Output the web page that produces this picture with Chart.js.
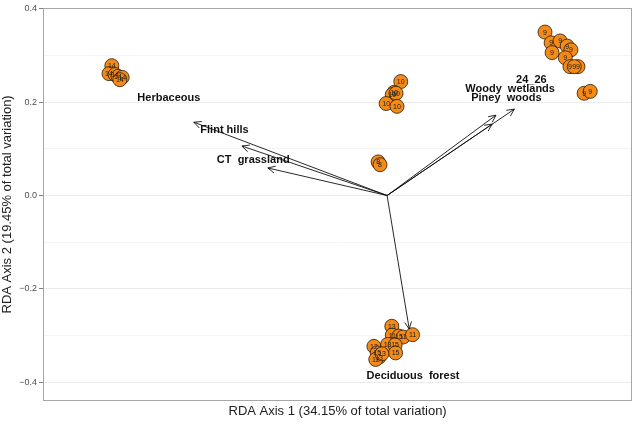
<!DOCTYPE html>
<html>
<head>
<meta charset="utf-8">
<script src="https://cdn.jsdelivr.net/npm/chart.js@4"></script>
<style>
html, body { margin: 0; padding: 0; background: #fff; }
#wrap { width: 640px; height: 424px; }
</style>
</head>
<body>
<div id="wrap"><canvas id="myChart"></canvas></div>
<script>
// site scores (RDA axis 1, RDA axis 2) and their labels
const siteX = [
  -0.584, -0.590, -0.577, -0.571, -0.562, -0.567,
  0.029, 0.015, 0.011, 0.019, -0.002, 0.021,
  0.335, 0.348, 0.367, 0.382, 0.390, 0.350, 0.378, 0.388, 0.405, 0.397, 0.418, 0.431,
  -0.019, -0.015,
  0.010, 0.011, 0.025, 0.034, 0.054, 0.001, 0.017, 0.018, -0.028, -0.021, -0.017, -0.024, -0.011
];
const siteY = [
  0.278, 0.261, 0.259, 0.255, 0.253, 0.248,
  0.244, 0.221, 0.216, 0.219, 0.197, 0.191,
  0.350, 0.327, 0.331, 0.320, 0.312, 0.306, 0.295, 0.276, 0.276, 0.276, 0.219, 0.223,
  0.072, 0.066,
  -0.280, -0.299, -0.301, -0.303, -0.298, -0.319, -0.320, -0.337, -0.323, -0.337, -0.346, -0.351, -0.339
];
const siteLabel = [
  "14", "14", "14", "14", "14", "14",
  "10", "10", "10", "10", "10", "10",
  "9", "9", "9", "9", "9", "9", "9", "9", "9", "9", "9", "9",
  "8", "8",
  "13", "11", "15", "11", "11", "13", "15", "15", "12", "15", "13", "12", "13"
];

// environmental vectors
const envName = ["Herbaceous", "Flint hills", "CT  grassland", "24_26", "Woody  wetlands", "Piney  woods", "Deciduous  forest"];
const envX = [-0.410, -0.308, -0.253, 0.270, 0.231, 0.223, 0.047];
const envY = [0.157, 0.106, 0.059, 0.185, 0.172, 0.153, -0.286];
const envLabelX = [-0.463, -0.345, -0.284, 0.306, 0.261, 0.253, 0.055];
const envLabelY = [0.208, 0.140, 0.077, 0.248, 0.229, 0.208, -0.386];

const yTicks = [-0.4, -0.3, -0.2, -0.1, 0, 0.1, 0.2, 0.3, 0.4];

function isMajor(v) {
  return Math.abs(Math.round(v * 10)) % 2 === 0;
}

const datasets = [{
  type: 'scatter',
  data: siteX.map((x, i) => ({ x: x, y: siteY[i] })),
  backgroundColor: '#f48a17',
  borderColor: '#2a1a0a',
  borderWidth: 0.8,
  pointRadius: 7,
  order: 2
}];

envName.forEach((name, i) => {
  datasets.push({
    type: 'line',
    data: [{ x: 0, y: 0 }, { x: envX[i], y: envY[i] }],
    borderColor: '#111',
    borderWidth: 0.9,
    pointRadius: 0,
    fill: false,
    order: 1
  });
});

const extras = {
  id: 'extras',
  afterDatasetDraw(chart, args) {
    if (args.index !== 0) return;
    const ctx = chart.ctx;
    ctx.save();
    ctx.fillStyle = '#222';
    ctx.font = '7px "Liberation Sans", Arial, sans-serif';
    ctx.textAlign = 'center';
    ctx.textBaseline = 'middle';
    args.meta.data.forEach((p, i) => {
      ctx.fillText(siteLabel[i], p.x, p.y + 0.5);
    });
    ctx.restore();
  },
  afterDatasetsDraw(chart) {
    const ctx = chart.ctx;
    const xs = chart.scales.x, ys = chart.scales.y;
    ctx.save();
    // arrow heads
    ctx.strokeStyle = '#111';
    ctx.lineWidth = 0.9;
    for (let i = 1; i < chart.data.datasets.length; i++) {
      const pts = chart.getDatasetMeta(i).data;
      const a = pts[0], b = pts[1];
      const ang = Math.atan2(b.y - a.y, b.x - a.x);
      const len = 8, spread = Math.PI / 7;
      ctx.beginPath();
      ctx.moveTo(b.x - len * Math.cos(ang - spread), b.y - len * Math.sin(ang - spread));
      ctx.lineTo(b.x, b.y);
      ctx.lineTo(b.x - len * Math.cos(ang + spread), b.y - len * Math.sin(ang + spread));
      ctx.stroke();
    }
    // vector labels
    ctx.fillStyle = '#111';
    ctx.font = 'bold 11px "Liberation Sans", Arial, sans-serif';
    ctx.textAlign = 'center';
    ctx.textBaseline = 'middle';
    envName.forEach((name, i) => {
      ctx.fillText(name, xs.getPixelForValue(envLabelX[i]), ys.getPixelForValue(envLabelY[i]));
    });
    // panel frame
    const ca = chart.chartArea;
    ctx.strokeStyle = '#a6a6a6';
    ctx.lineWidth = 1;
    ctx.strokeRect(Math.round(ca.left) + 0.5, Math.round(ca.top) + 0.5,
      Math.round(ca.right - ca.left) - 1, Math.round(ca.bottom - ca.top) - 1);
    ctx.restore();
  }
};

new Chart('myChart', {
  data: { datasets: datasets },
  options: {
    responsive: true,
    maintainAspectRatio: false,
    animation: false,
    layout: { padding: { top: 4, right: 7, bottom: 5, left: 0 } },
    plugins: {
      legend: { display: false },
      tooltip: { enabled: false }
    },
    scales: {
      x: {
        type: 'linear',
        min: -0.73,
        max: 0.52,
        ticks: { display: false },
        grid: { display: false },
        border: { display: false },
        title: {
          display: true,
          text: 'RDA Axis 1 (34.15% of total variation)',
          color: '#222',
          font: { family: '"Liberation Sans", Arial, sans-serif', size: 13 },
          padding: { top: 0, bottom: 0 }
        },
        afterFit(scale) { scale.height = 18; }
      },
      y: {
        type: 'linear',
        min: -0.44,
        max: 0.402,
        afterBuildTicks(scale) {
          scale.ticks = yTicks.map(v => ({ value: v }));
        },
        ticks: {
          padding: 2,
          color: '#4d4d4d',
          font: { family: '"Liberation Sans", Arial, sans-serif', size: 9 },
          callback(v) {
            if (!isMajor(v)) return '';
            return (v < 0 ? '\u2212' : '') + Math.abs(v).toFixed(1);
          }
        },
        grid: {
          color: ctx => isMajor(ctx.tick.value) ? '#ebebeb' : '#f4f4f4',
          tickColor: ctx => isMajor(ctx.tick.value) ? '#7f7f7f' : 'rgba(0,0,0,0)',
          tickLength: 4,
          lineWidth: 1
        },
        border: { display: false },
        title: {
          display: true,
          text: 'RDA Axis 2 (19.45% of total variation)',
          color: '#222',
          font: { family: '"Liberation Sans", Arial, sans-serif', size: 13 },
          padding: { top: 0, bottom: 0 }
        },
        afterFit(scale) { scale.width = 43; }
      }
    }
  },
  plugins: [extras]
});
</script>
</body>
</html>
